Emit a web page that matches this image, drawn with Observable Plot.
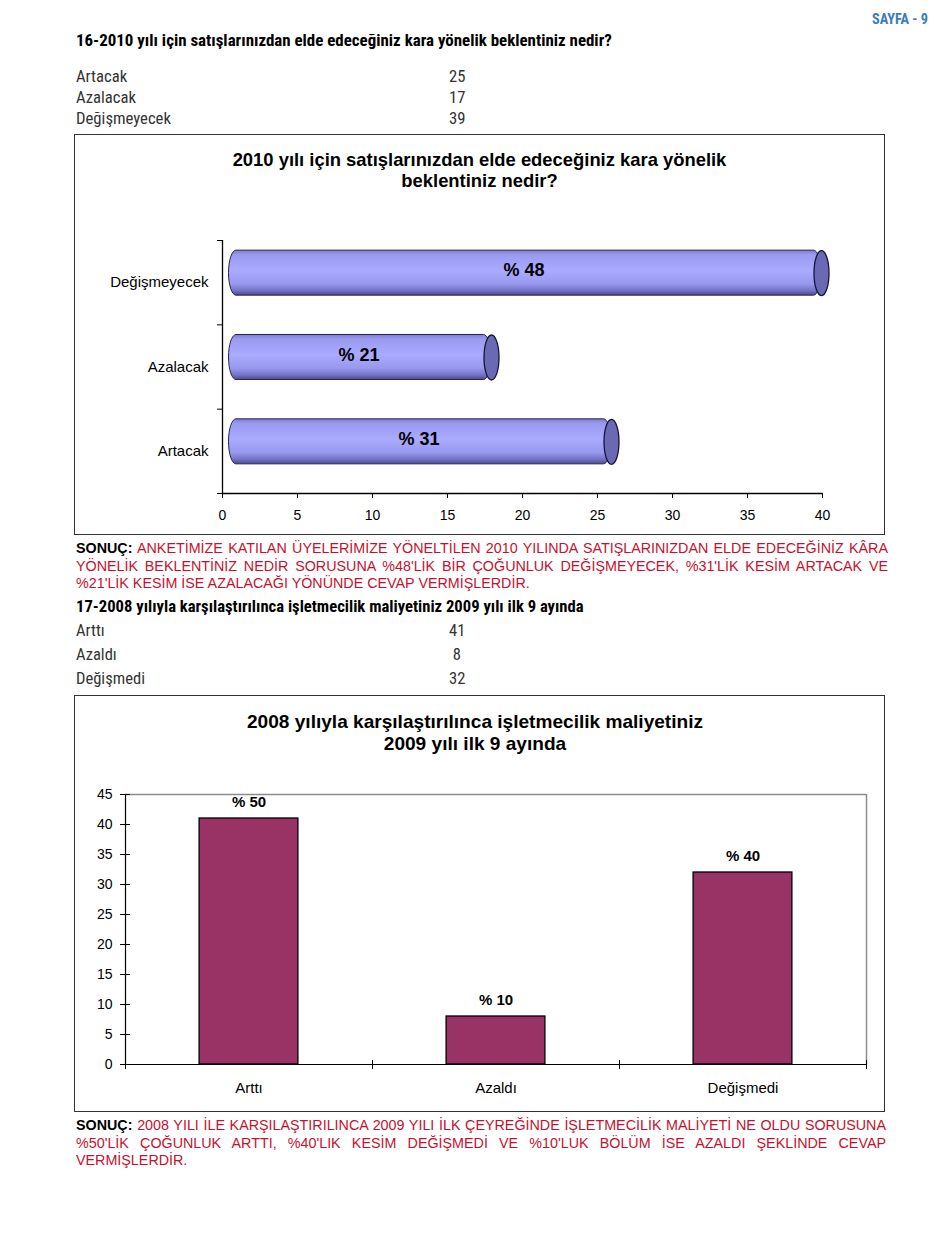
<!DOCTYPE html>
<html lang="tr"><head><meta charset="utf-8">
<script src="https://cdn.jsdelivr.net/npm/d3@7"></script>
<script src="https://cdn.jsdelivr.net/npm/@observablehq/plot@0.6"></script>
<style>
html,body{margin:0;padding:0;background:#fff;}
body{position:relative;width:950px;height:1260px;overflow:hidden;font-family:"Liberation Sans",Arial,sans-serif;color:#000;}
.a{position:absolute;white-space:pre;}
.n{font-family:"Roboto Condensed","Liberation Sans",sans-serif;}
.box{position:absolute;border:1px solid #333;box-sizing:border-box;}
.ttl{position:absolute;text-align:center;font-weight:bold;white-space:nowrap;}
.para{position:absolute;font-size:14px;line-height:17.5px;}
.para div{text-align:justify;text-align-last:justify;white-space:nowrap;}
.para div.last{text-align-last:left;}
.red{color:#c8102e;}
.plot{position:absolute;}
</style></head><body>
<div id="sayfa" class="a n" style="left:872px;top:10px;font-size:14px;line-height:18px;font-weight:bold;color:#3a7cc0;">SAYFA - 9</div>
<div id="h16" class="a n" style="left:76px;top:30px;font-size:15px;line-height:20px;font-weight:bold;">16-2010 yılı için satışlarınızdan elde edeceğiniz kara yönelik beklentiniz nedir?</div>
<div id="t16"></div>
<div class="box" style="left:74px;top:134px;width:811px;height:401px;"></div>
<div id="ttl16" class="ttl" style="left:74px;top:149px;width:811px;font-size:16px;line-height:21px;"><span>2010 yılı için satışlarınızdan elde edeceğiniz kara yönelik</span><br>beklentiniz nedir?</div>
<div id="c16" class="plot" style="left:75px;top:135px;"></div>

<div id="para16" class="para" style="left:76px;top:540px;width:812px;">
<div><b>SONUÇ:</b> <span class="red">ANKETİMİZE KATILAN ÜYELERİMİZE YÖNELTİLEN 2010 YILINDA SATIŞLARINIZDAN ELDE EDECEĞİNİZ KÂRA</span></div>
<div class="red">YÖNELİK BEKLENTİNİZ NEDİR SORUSUNA %48'LİK BİR ÇOĞUNLUK DEĞİŞMEYECEK, %31'LİK KESİM ARTACAK VE</div>
<div class="red last"><span id="measureLine">%21'LİK KESİM İSE AZALACAĞI YÖNÜNDE CEVAP VERMİŞLERDİR.</span></div>
</div>

<div id="h17" class="a n" style="left:76px;top:597px;font-size:15px;line-height:20px;font-weight:bold;">17-2008 yılıyla karşılaştırılınca işletmecilik maliyetiniz 2009 yılı ilk 9 ayında</div>
<div id="t17"></div>
<div class="box" style="left:74px;top:695px;width:811px;height:417px;"></div>
<div id="ttl17" class="ttl" style="left:65px;top:711px;width:820px;font-size:17px;line-height:22px;"><span>2008 yılıyla karşılaştırılınca işletmecilik maliyetiniz</span><br>2009 yılı ilk 9 ayında</div>
<div id="c17" class="plot" style="left:75px;top:696px;"></div>

<div id="para17" class="para" style="left:76px;top:1117px;width:810px;">
<div><b>SONUÇ:</b> <span class="red">2008 YILI İLE KARŞILAŞTIRILINCA 2009 YILI İLK ÇEYREĞİNDE İŞLETMECİLİK MALİYETİ NE OLDU SORUSUNA</span></div>
<div class="red">%50'LİK ÇOĞUNLUK ARTTI, %40'LIK KESİM DEĞİŞMEDİ VE %10'LUK BÖLÜM İSE AZALDI ŞEKLİNDE CEVAP</div>
<div class="red last">VERMİŞLERDİR.</div>
</div>

<script>
// ---- Data: question 16 ----
const q16Categories = ["Artacak", "Azalacak", "Değişmeyecek"];
const q16Counts = [25, 17, 39];
const q16Labels = ["% 31", "% 21", "% 48"];
const q16XTicks = [0, 5, 10, 15, 20, 25, 30, 35, 40];

// ---- Data: question 17 ----
const q17Categories = ["Arttı", "Azaldı", "Değişmedi"];
const q17Counts = [41, 8, 32];
const q17Labels = ["% 50", "% 10", "% 40"];
const q17YTicks = [0, 5, 10, 15, 20, 25, 30, 35, 40, 45];

// ---- helpers: fit text size to the reference's text width ----
function fitFont(el, target, measureEl) {
  const m = measureEl || el;
  const base = parseFloat(getComputedStyle(el).fontSize);
  const w = m.getBoundingClientRect().width;
  if (w > 0) el.style.fontSize = (base * target / w).toFixed(2) + "px";
}
fitFont(document.getElementById("sayfa"), 56);
fitFont(document.getElementById("h16"), 536);
fitFont(document.getElementById("h17"), 508);
fitFont(document.getElementById("ttl16"), 494, document.querySelector("#ttl16 span"));
fitFont(document.getElementById("ttl17"), 456, document.querySelector("#ttl17 span"));
{
  const p1 = document.getElementById("para16");
  fitFont(p1, 454, document.getElementById("measureLine"));
  document.getElementById("para17").style.fontSize = p1.style.fontSize;
}

// ---- Tables above charts ----
function makeTable(el, cats, counts, centerTop, step, longestWidth) {
  const host = document.getElementById(el);
  const cells = [];
  cats.forEach((c, i) => {
    const top = centerTop + i * step - 10;
    const a = document.createElement("div");
    a.className = "a n";
    a.style.cssText = `left:76px;top:${top}px;font-size:15px;line-height:20px;color:#333;`;
    a.textContent = c;
    const b = document.createElement("div");
    b.className = "a n";
    b.style.cssText = `left:449px;top:${top}px;font-size:15px;line-height:20px;color:#333;`;
    b.textContent = String(counts[i]).padStart(2, " ");
    host.appendChild(a); host.appendChild(b);
    cells.push(a, b);
  });
  // size from the longest label
  const longest = cells.filter((_, k) => k % 2 === 0).reduce((p, q) => q.getBoundingClientRect().width > p.getBoundingClientRect().width ? q : p);
  const size = 15 * longestWidth / longest.getBoundingClientRect().width;
  cells.forEach(c => c.style.fontSize = size.toFixed(2) + "px");
}
makeTable("t16", q16Categories, q16Counts, 77, 21, 95);
makeTable("t17", q17Categories, q17Counts, 631, 24, 69);

const font = "'Liberation Sans', Arial, sans-serif";

// ---- Chart 16: horizontal cylinders ----
const d16 = q16Categories.map((c, i) => ({cat: c, i, count: q16Counts[i], label: q16Labels[i]}));
const half16 = 0.267;
const capSymbol = {
  draw(ctx) {
    const rx = 7.5, ry = 22.5, k = 0.5523;
    ctx.moveTo(rx, 0);
    ctx.bezierCurveTo(rx, ry * k, rx * k, ry, 0, ry);
    ctx.bezierCurveTo(-rx * k, ry, -rx, ry * k, -rx, 0);
    ctx.bezierCurveTo(-rx, -ry * k, -rx * k, -ry, 0, -ry);
    ctx.bezierCurveTo(rx * k, -ry, rx, -ry * k, rx, 0);
    ctx.closePath();
  }
};
const p16 = Plot.plot({
  width: 809, height: 399,
  marginLeft: 147, marginRight: 62, marginTop: 105, marginBottom: 41,
  style: {fontSize: "14px", fontFamily: font, color: "#000", background: "transparent", overflow: "visible"},
  x: {domain: [0, 40], label: null},
  y: {domain: [0, 3], label: null},
  marks: [
    Plot.rect(d16, {
      x1: () => 0, x2: d => d.count,
      y1: d => d.i + 0.5 - half16, y2: d => d.i + 0.5 + half16,
      dx: 14, dy: -9.5, rx: 7.5, ry: 22.5, insetLeft: -7.5,
      fill: "url(#cyl16)", stroke: "#26264a", strokeWidth: 1
    }),
    Plot.dot(d16, {x: "count", y: d => d.i + 0.5, dx: 14, dy: -9.5, symbol: capSymbol,
      fill: "#6a6ab4", stroke: "#15153a", strokeWidth: 1.3}),
    Plot.text(d16, {x: d => d.count / 2, y: d => d.i + 0.5, dx: 9, dy: -12, text: "label",
      fontWeight: "bold", fontSize: 18, fill: "#000"}),
    Plot.ruleX([0], {stroke: "#000", strokeWidth: 1.3}),
    Plot.ruleY([0], {stroke: "#000", strokeWidth: 1.3}),
    Plot.axisY({ticks: [0, 1, 2, 3], tickSize: 5, tickFormat: () => "", label: null, stroke: "#000"}),
    Plot.axisY({ticks: [0.5, 1.5, 2.5], tickSize: 0, tickPadding: 14, label: null, fontSize: 15,
      tickFormat: v => q16Categories[Math.floor(v)]}),
    Plot.axisX({ticks: q16XTicks, tickSize: 5, tickPadding: 12, label: null, tickFormat: d => String(d), stroke: "#000"})
  ]
});
{
  const ns = "http://www.w3.org/2000/svg";
  const defs = document.createElementNS(ns, "defs");
  defs.innerHTML = `<linearGradient id="cyl16" x1="0" y1="0" x2="0" y2="1">
    <stop offset="0" stop-color="#7c7cd0"/>
    <stop offset="0.1" stop-color="#9a9af0"/>
    <stop offset="0.45" stop-color="#aaaaff"/>
    <stop offset="0.75" stop-color="#9898ee"/>
    <stop offset="0.9" stop-color="#7272c6"/>
    <stop offset="1" stop-color="#4a4a8c"/>
  </linearGradient>`;
  p16.prepend(defs);
}
document.getElementById("c16").appendChild(p16);

// ---- Chart 17: vertical columns ----
const d17 = q17Categories.map((c, i) => ({cat: c, i, count: q17Counts[i], label: q17Labels[i]}));
const p17 = Plot.plot({
  width: 809, height: 415,
  marginLeft: 50, marginRight: 18, marginTop: 98, marginBottom: 47,
  style: {fontSize: "14px", fontFamily: font, color: "#000", background: "transparent", overflow: "visible"},
  x: {domain: [0, 3], label: null},
  y: {domain: [0, 45], label: null},
  marks: [
    Plot.ruleY([45], {stroke: "#8c8c8c", strokeWidth: 1.5}),
    Plot.ruleX([3], {stroke: "#8c8c8c", strokeWidth: 1.5}),
    Plot.rectY(d17, {x1: d => d.i + 0.3, x2: d => d.i + 0.7, y: "count",
      fill: "#993366", stroke: "#000", strokeWidth: 1.3}),
    Plot.text(d17, {x: d => d.i + 0.5, y: "count", text: "label", dy: -16,
      fontWeight: "bold", fontSize: 15, fill: "#000"}),
    Plot.ruleX([0], {stroke: "#000", strokeWidth: 1.2}),
    Plot.ruleY([0], {stroke: "#000", strokeWidth: 1.2}),
    Plot.ruleY(q17YTicks, {x1: () => 0, x2: () => 0, insetLeft: -5, insetRight: -5, stroke: "#000"}),
    Plot.ruleX([0, 1, 2, 3], {y1: () => 0, y2: () => 0, insetTop: -4, insetBottom: -5, stroke: "#000"}),
    Plot.axisY({ticks: q17YTicks, tickSize: 0, tickPadding: 13, label: null, tickFormat: d => String(d)}),
    Plot.axisX({ticks: [0.5, 1.5, 2.5], tickSize: 0, tickPadding: 18, label: null, fontSize: 15,
      tickFormat: v => q17Categories[Math.floor(v)]})
  ]
});
document.getElementById("c17").appendChild(p17);
</script>
</body></html>
